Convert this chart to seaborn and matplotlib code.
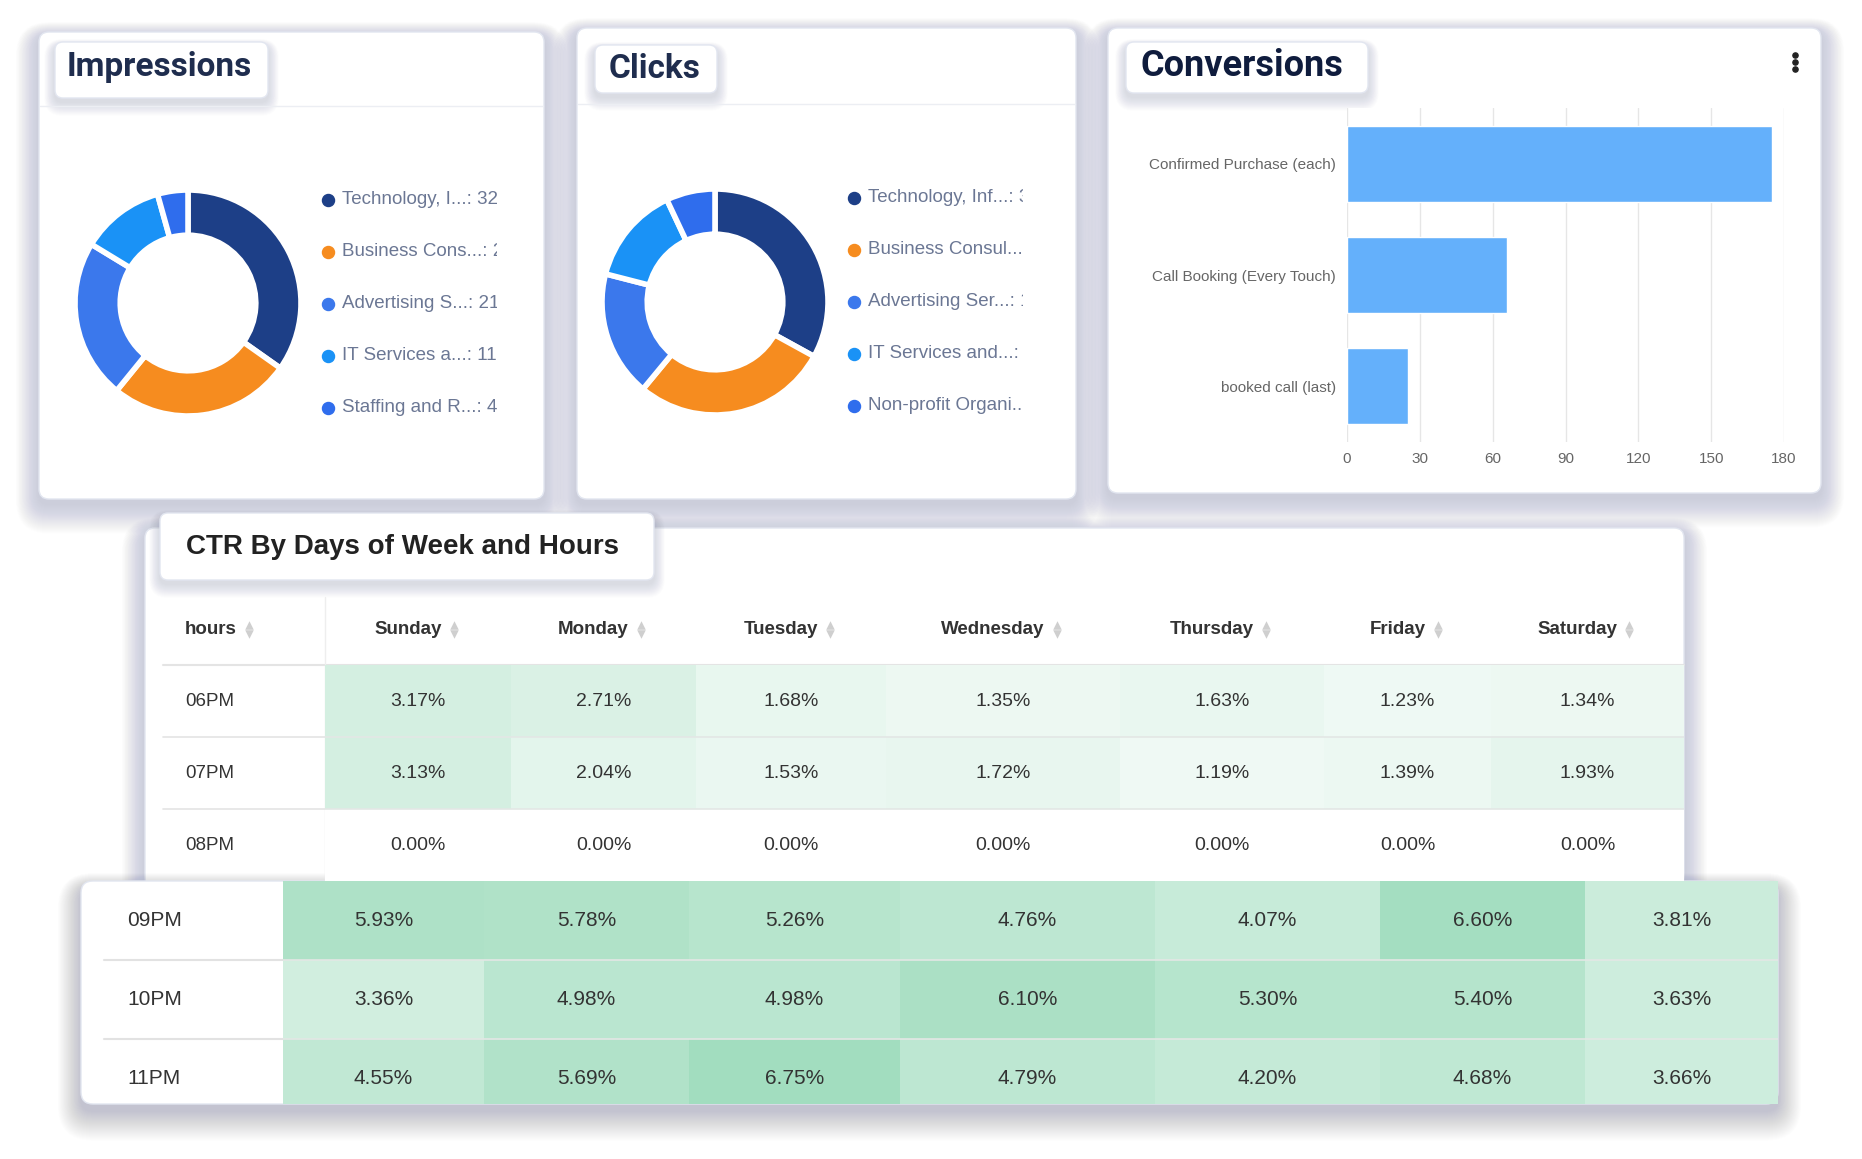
import numpy as np
import pandas as pd
import matplotlib.pyplot as plt
import seaborn as sns
from matplotlib.patches import FancyBboxPatch
from matplotlib.colors import LinearSegmentedColormap

# --- Data ---
impr_labels = ["Technology, I...", "Business Cons...", "Advertising S...", "IT Services a...", "Staffing and R..."]
impr_values = [32, 24, 21, 11, 4]

click_labels = ["Technology, Inf...", "Business Consul...", "Advertising Ser...", "IT Services and...", "Non-profit Organi..."]
click_values = [33, 28, 18, 14, 7]

seg_colors = ["#1d3f87", "#f68c1f", "#3b78ec", "#1a92f6", "#2f6ded"]

conv_labels = ["Confirmed Purchase (each)", "Call Booking (Every Touch)", "booked call (last)"]
conv_values = [175, 66, 25]

days = ["Sunday", "Monday", "Tuesday", "Wednesday", "Thursday", "Friday", "Saturday"]
hours_top = ["06PM", "07PM", "08PM"]
ctr_top = [
    [3.17, 2.71, 1.68, 1.35, 1.63, 1.23, 1.34],
    [3.13, 2.04, 1.53, 1.72, 1.19, 1.39, 1.93],
    [0.00, 0.00, 0.00, 0.00, 0.00, 0.00, 0.00],
]
hours_bottom = ["09PM", "10PM", "11PM"]
ctr_bottom = [
    [5.93, 5.78, 5.26, 4.76, 4.07, 6.60, 3.81],
    [3.36, 4.98, 4.98, 6.10, 5.30, 5.40, 3.63],
    [4.55, 5.69, 6.75, 4.79, 4.20, 4.68, 3.66],
]

# --- Figure setup (pixel coordinates) ---
W, H = 1862, 1159
sns.set_theme(style="white")
plt.rcParams['font.family'] = ['Liberation Sans', 'DejaVu Sans']

fig = plt.figure(figsize=(W / 100, H / 100), dpi=100)
bg = fig.add_axes([0, 0, 1, 1])
bg.set_xlim(0, W)
bg.set_ylim(H, 0)
bg.axis('off')


def px_axes(x0, y0, x1, y1):
    return fig.add_axes([x0 / W, 1 - y1 / H, (x1 - x0) / W, (y1 - y0) / H])


def card(x0, y0, x1, y1, r=10, layers=30, alpha=0.011, off=5, shadow='#80859f'):
    # soft drop shadow built from stacked translucent boxes
    for i in range(layers, 0, -1):
        g = i * 1.1
        bg.add_patch(FancyBboxPatch((x0 - g * 0.7, y0 + off - g * 0.45),
                                    x1 - x0 + g * 1.4, y1 - y0 + g * 1.35,
                                    boxstyle=f"round,pad=0,rounding_size={r + g * 0.7}",
                                    fc=shadow, ec='none', alpha=alpha))
    p = FancyBboxPatch((x0, y0), x1 - x0, y1 - y0, boxstyle=f"round,pad=0,rounding_size={r}",
                       fc='white', ec='#e2e6f0', lw=1)
    bg.add_patch(p)
    return p


def title_box(x0, y0, x1, y1, text, tx, ty, size, color, family):
    card(x0, y0, x1, y1, r=8, layers=14, alpha=0.02, off=4)
    bg.text(tx, ty, text, fontsize=size, fontweight='bold', color=color,
            family=family, va='center', ha='left')


def donut(cx, cy, r, values):
    s = r * 1.25
    ax = px_axes(cx - s, cy - s, cx + s, cy + s)
    ax.pie(values, colors=seg_colors, startangle=90, counterclock=False,
           wedgeprops=dict(width=0.4, edgecolor='white', linewidth=4))
    ax.set_aspect('equal')


def legend(x0, x1, y_first, step, labels, values):
    y_last = y_first + step * (len(labels) - 1)
    ax = px_axes(x0, y_first - 20, x1, y_last + 20)
    ax.set_xlim(x0, x1)
    ax.set_ylim(y_last + 20, y_first - 20)
    ax.axis('off')
    for i, (lab, val, c) in enumerate(zip(labels, values, seg_colors)):
        y = y_first + i * step
        ax.scatter([x0 + 8], [y], s=75, color=c, clip_on=False, zorder=3)
        ax.text(x0 + 22, y, f"{lab}: {val}", va='center', fontsize=13.5,
                color='#6b7794', clip_on=True)


# --- Top cards ---
card(39, 32, 544, 499)
card(577, 28, 1076, 499)
card(1108, 28, 1821, 493)
bg.plot([40, 543], [106, 106], color='#eceef3', lw=1)
bg.plot([578, 1075], [104, 104], color='#eceef3', lw=1)

title_box(55, 42, 268, 98, "Impressions", 67, 67, 24, '#1f2d4e', ['Roboto', 'DejaVu Sans'])
title_box(595, 45, 717, 93, "Clicks", 609, 69, 24, '#1f2d4e', ['Roboto', 'DejaVu Sans'])
title_box(1126, 42, 1368, 93, "Conversions", 1141, 66, 26, '#0f1c3d', ['Roboto', 'DejaVu Sans'])
bg.scatter([1795] * 3, [55, 62, 69], s=14, color='#222222')

# --- Donuts ---
donut(188, 303, 113, impr_values)
legend(320, 497, 200, 52, impr_labels, impr_values)
donut(715, 302, 113, click_values)
legend(846, 1023, 198, 52, click_labels, click_values)

# --- Conversions bar chart ---
conv_df = pd.DataFrame({'goal': conv_labels, 'count': conv_values})
ax = px_axes(1347, 108, 1784, 442)
sns.barplot(data=conv_df, x='count', y='goal', color='#64b0fb', saturation=1, width=0.685, ax=ax)
ax.set_xlim(0, 180)
ax.set_xticks(range(0, 181, 30))
ax.grid(axis='x', color='#e6e6e6', lw=1)
ax.set_axisbelow(True)
sns.despine(ax=ax, left=True, bottom=True)
ax.set_xlabel('')
ax.set_ylabel('')
ax.tick_params(axis='both', length=0, labelsize=11, colors='#666666')
ax.tick_params(axis='y', pad=8)
ax.tick_params(axis='x', pad=7)

# --- CTR table ---
top_df = pd.DataFrame(ctr_top, index=hours_top, columns=days)
bot_df = pd.DataFrame(ctr_bottom, index=hours_bottom, columns=days)
cmap = LinearSegmentedColormap.from_list('ctr', ['#ffffff', '#9fdcbd'])

card(145, 528, 1684, 900, r=10)
popped = card(81, 881, 1778, 1104, r=12, layers=30, alpha=0.015, off=7)
title_box(160, 513, 654, 580, "CTR By Days of Week and Hours", 186, 547, 20, '#222222',
          ['Liberation Sans', 'DejaVu Sans'])

top_edges = [325, 511, 696, 886, 1120, 1324, 1491, 1684]
bot_edges = [283, 484, 689, 900, 1155, 1380, 1585, 1778]


def ctr_block(df, edges, y0, y1, row_h, fontsize):
    n = len(df)
    for j, day in enumerate(days):
        a = px_axes(edges[j], y0, edges[j + 1], y1)
        col = df[[day]]
        sns.heatmap(col, ax=a, cmap=cmap, vmin=0, vmax=7, cbar=False,
                    annot=col.map(lambda v: f"{v:.2f}%").to_numpy(), fmt='',
                    annot_kws=dict(fontsize=fontsize, color='#333333'),
                    xticklabels=False, yticklabels=False)
        a.set_ylim((y1 - y0) / row_h, 0)
        for i in range(1, n):
            a.axhline(i, color='#e3e7e5', lw=1.2)
        a.set_xlabel('')
        a.set_ylabel('')


# header row
renderer = fig.canvas.get_renderer()
header_y = 629
hdr = bg.text(185, header_y, "hours", fontsize=13.5, fontweight='bold', color='#333333', va='center', ha='left')
headers = [hdr]
for j, day in enumerate(days):
    cx = (top_edges[j] + top_edges[j + 1]) / 2 - 10
    headers.append(bg.text(cx, header_y, day, fontsize=13.5, fontweight='bold', color='#333333',
                           va='center', ha='center'))
for t in headers:
    bb = t.get_window_extent(renderer=renderer)
    ix = bb.x1 + 12
    bg.scatter([ix], [header_y - 4.5], marker='^', s=38, color='#cfcfcf', lw=0)
    bg.scatter([ix], [header_y + 4.5], marker='v', s=38, color='#cfcfcf', lw=0)

bg.plot([163, 1684], [665, 665], color='#e4e4e4', lw=1.5)
bg.plot([325, 325], [597, 881], color='#eeeeee', lw=1)
for i, h in enumerate(hours_top):
    bg.text(185, 665 + 72 * i + 36, h, fontsize=13.5, color='#333333', va='center')
    if i > 0:
        bg.plot([163, 325], [665 + 72 * i, 665 + 72 * i], color='#e4e4e4', lw=1.2)

for i, h in enumerate(hours_bottom):
    bg.text(127, 881 + 79 * i + 39.5, h, fontsize=15, color='#333333', va='center')
    if i > 0:
        bg.plot([104, 283], [881 + 79 * i, 881 + 79 * i], color='#e2e2e2', lw=1.5)

ctr_block(top_df, top_edges, 665, 881, 72, 14)
ctr_block(bot_df, bot_edges, 881, 1104, 79, 15)

plt.savefig('out.png', dpi=100)
plt.close()
